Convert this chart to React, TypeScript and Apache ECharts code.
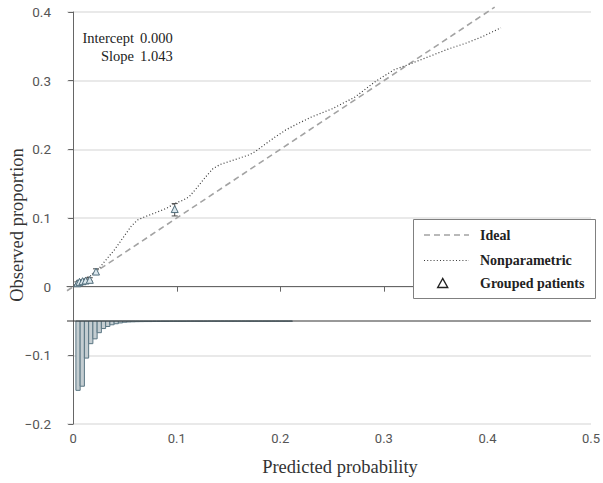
import React, { useEffect, useRef } from "react";
import * as echarts from "echarts";

// ---- data ----
const xTicks = [0, 0.1, 0.2, 0.3, 0.4, 0.5];
const idealX = [-0.006, 0.407];
const npX = [0.003, 0.008, 0.013, 0.018, 0.023, 0.03, 0.04, 0.048, 0.056, 0.062, 0.068, 0.08, 0.09, 0.098, 0.106, 0.112, 0.12, 0.128, 0.135, 0.142, 0.15, 0.16, 0.17, 0.176, 0.185, 0.195, 0.205, 0.215, 0.23, 0.25, 0.272, 0.292, 0.31, 0.323, 0.34, 0.362, 0.38, 0.395, 0.413];
const npY = [0.004, 0.008, 0.012, 0.017, 0.023, 0.036, 0.054, 0.071, 0.088, 0.097, 0.101, 0.108, 0.114, 0.121, 0.126, 0.131, 0.145, 0.16, 0.172, 0.178, 0.182, 0.187, 0.192, 0.197, 0.207, 0.218, 0.228, 0.236, 0.247, 0.259, 0.276, 0.299, 0.316, 0.323, 0.333, 0.346, 0.355, 0.364, 0.377];
const groupX = [0.004, 0.006, 0.009, 0.012, 0.016, 0.022, 0.098];
const groupY = [0.005, 0.007, 0.008, 0.009, 0.01, 0.022, 0.113];
const groupLo = [0.003, 0.005, 0.006, 0.007, 0.008, 0.018, 0.103];
const groupHi = [0.007, 0.009, 0.01, 0.011, 0.013, 0.026, 0.121];
const histBaseline = -0.05;
const histStart = 0.0026;
const histBinWidth = 0.0041;
const histDepth = [0.101, 0.095, 0.054, 0.033, 0.026, 0.017, 0.011, 0.008, 0.0055, 0.004, 0.0028, 0.0018, 0.0014, 0.0012, 0.001, 0.0009, 0.0008, 0.0008, 0.0007, 0.0007, 0.0006, 0.0006, 0.0005, 0.0005, 0.0005, 0.0005, 0.0004, 0.0004, 0.0004, 0.0004, 0.0004, 0.0003, 0.0003, 0.0003, 0.0003, 0.0003, 0.0003, 0.0003, 0.0003, 0.0003, 0.0003, 0.0003, 0.0003, 0.0003, 0.0003, 0.0003, 0.0003, 0.0003, 0.0003, 0.0003, 0.0003];
const interceptText = "0.000";
const slopeText = "1.043";

const SERIF = "Liberation Serif";

export default function App() {
  const ref = useRef<HTMLDivElement>(null);
  useEffect(() => {
    document.body.style.margin = "0";
    const chart = echarts.init(ref.current!, null, { renderer: "svg" });
    const histData = histDepth.map((d, i) => [histStart + i * histBinWidth, histStart + (i + 1) * histBinWidth, d]);
    const errData = groupX.map((x, i) => [x, groupLo[i], groupHi[i]]);
    const LZ = 100;
    const option: any = {
      animation: false,
      backgroundColor: "#fff",
      grid: { left: 67, right: 9, top: 12, bottom: 59 },
      xAxis: {
        type: "value",
        min: -0.006,
        max: 0.5,
        axisLine: { show: true, lineStyle: { color: "#666", width: 1 } },
        axisTick: { show: true, length: 5, customValues: xTicks, lineStyle: { color: "#666" } },
        axisLabel: {
          customValues: xTicks,
          color: "#555",
          fontFamily: "Roboto",
          fontSize: 13,
          margin: 8,
          formatter: (v: number) => String(+v.toFixed(2)),
        },
        splitLine: { show: false },
      },
      yAxis: {
        type: "value",
        min: -0.2,
        max: 0.4,
        interval: 0.1,
        axisLine: { show: true, lineStyle: { color: "#666", width: 1 } },
        axisTick: { show: true, length: 5, lineStyle: { color: "#666" } },
        axisLabel: {
          color: "#555",
          fontFamily: "Roboto",
          fontSize: 13.5,
          margin: 16,
          formatter: (v: number) => String(+v.toFixed(2)).replace("-", "\u2212"),
        },
        splitLine: { show: true, lineStyle: { color: "#e2e2e2", width: 1.5 } },
      },
      series: [
        {
          type: "custom",
          name: "hist",
          data: histData,
          clip: false,
          z: 2,
          renderItem: (params: any, api: any) => {
            const p0 = api.coord([api.value(0), histBaseline]);
            const p1 = api.coord([api.value(1), histBaseline - api.value(2)]);
            return {
              type: "rect",
              shape: { x: p0[0], y: p0[1], width: p1[0] - p0[0], height: p1[1] - p0[1] },
              style: { fill: "#c4cdd1", stroke: "#5a7683", lineWidth: 1 },
            };
          },
        },
        {
          type: "line",
          name: "baseline",
          data: [[-0.006, histBaseline], [0.5, histBaseline]],
          symbol: "none",
          lineStyle: { color: "#333", width: 1 },
          z: 3,
        },
        {
          type: "line",
          name: "Ideal",
          data: idealX.map((x) => [x, x]),
          symbol: "none",
          clip: false,
          lineStyle: { color: "#a3a3a3", width: 1.6, type: [6, 4] },
          z: 4,
        },
        {
          type: "line",
          name: "Nonparametric",
          data: npX.map((x, i) => [x, npY[i]]),
          symbol: "none",
          lineStyle: { color: "#3a3a3a", width: 1.2, type: [1, 2.2] },
          z: 5,
        },
        {
          type: "custom",
          name: "err",
          data: errData,
          z: 6,
          renderItem: (params: any, api: any) => {
            const x = api.value(0);
            const lo = api.coord([x, api.value(1)]);
            const hi = api.coord([x, api.value(2)]);
            const st = { stroke: "#4a4a4a", lineWidth: 1 };
            return {
              type: "group",
              children: [
                { type: "line", shape: { x1: lo[0], y1: lo[1], x2: hi[0], y2: hi[1] }, style: st },
                { type: "line", shape: { x1: lo[0] - 3, y1: lo[1], x2: lo[0] + 3, y2: lo[1] }, style: st },
                { type: "line", shape: { x1: hi[0] - 3, y1: hi[1], x2: hi[0] + 3, y2: hi[1] }, style: st },
              ],
            };
          },
        },
        {
          type: "scatter",
          name: "Grouped patients",
          data: groupX.map((x, i) => [x, groupY[i]]),
          symbol: "triangle",
          symbolSize: 7,
          itemStyle: { color: "#dce8ee", borderColor: "#4f6c7a", borderWidth: 1, opacity: 1 },
          z: 7,
        },
      ],
      graphic: {
        elements: [
          { type: "text", x: 134, y: 38, style: { text: "Intercept", font: `14.5px "${SERIF}"`, fill: "#222", align: "right", verticalAlign: "middle" } },
          { type: "text", x: 140, y: 38, style: { text: interceptText, font: `14.5px "${SERIF}"`, fill: "#222", align: "left", verticalAlign: "middle" } },
          { type: "text", x: 134, y: 56, style: { text: "Slope", font: `14.5px "${SERIF}"`, fill: "#222", align: "right", verticalAlign: "middle" } },
          { type: "text", x: 140, y: 56, style: { text: slopeText, font: `14.5px "${SERIF}"`, fill: "#222", align: "left", verticalAlign: "middle" } },
          { type: "text", x: 340, y: 467, style: { text: "Predicted probability", font: `18.5px "${SERIF}"`, fill: "#333", align: "center", verticalAlign: "middle" } },
          { type: "text", x: 17, y: 225, rotation: Math.PI / 2, style: { text: "Observed proportion", font: `18.5px "${SERIF}"`, fill: "#333", align: "center", verticalAlign: "middle" } },
          { type: "rect", z: LZ, shape: { x: 413.5, y: 219.5, width: 182, height: 79 }, style: { fill: "#fff", stroke: "#808080", lineWidth: 1 } },
          { type: "line", z: LZ + 1, shape: { x1: 424, y1: 235, x2: 469, y2: 235 }, style: { stroke: "#a3a3a3", lineWidth: 1.6, lineDash: [6, 4] } },
          { type: "text", z: LZ + 1, x: 480, y: 235, style: { text: "Ideal", font: `bold 14px "${SERIF}"`, fill: "#222", verticalAlign: "middle" } },
          { type: "line", z: LZ + 1, shape: { x1: 424, y1: 260.5, x2: 469, y2: 260.5 }, style: { stroke: "#3a3a3a", lineWidth: 1.2, lineDash: [1, 2.2] } },
          { type: "text", z: LZ + 1, x: 480, y: 260.5, style: { text: "Nonparametric", font: `bold 14px "${SERIF}"`, fill: "#222", verticalAlign: "middle" } },
          { type: "polygon", z: LZ + 1, shape: { points: [[442.7, 278.5], [437.7, 287.5], [447.7, 287.5]] }, style: { fill: "none", stroke: "#222", lineWidth: 1.4 } },
          { type: "text", z: LZ + 1, x: 480, y: 283, style: { text: "Grouped patients", font: `bold 14px "${SERIF}"`, fill: "#222", verticalAlign: "middle" } },
        ],
      },
    };
    chart.setOption(option);
    return () => chart.dispose();
  }, []);
  return <div ref={ref} style={{ width: 603, height: 483 }} />;
}
